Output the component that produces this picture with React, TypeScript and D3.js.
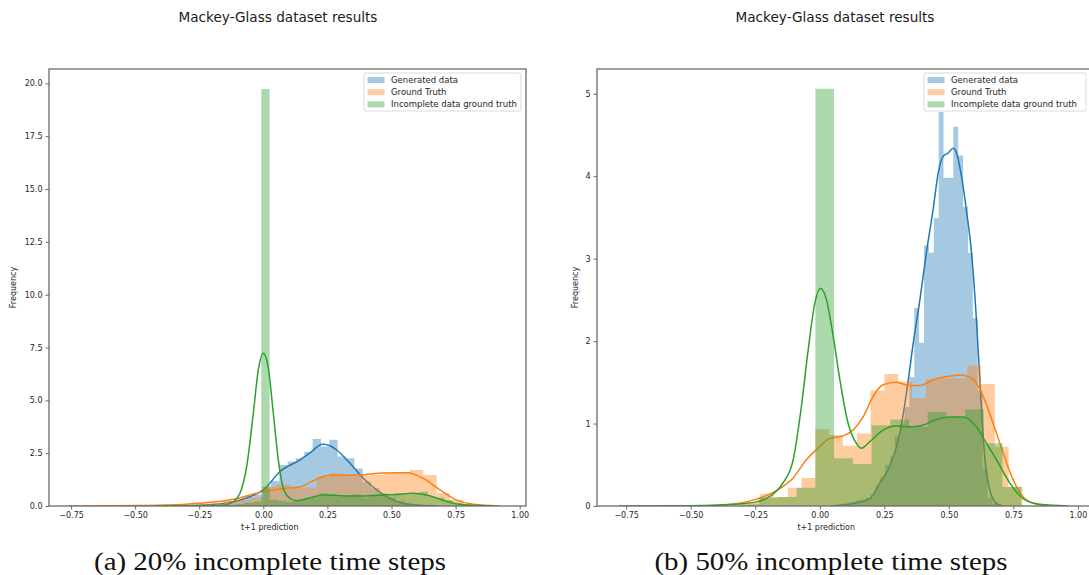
import React, { useRef, useEffect } from 'react'
import * as d3 from 'd3'

const titleText = 'Mackey-Glass dataset results'
const seriesNames = ['Generated data', 'Ground Truth', 'Incomplete data ground truth']
const seriesColors = ['#1f77b4', '#ff7f0e', '#2ca02c']
const xTickValues = [-0.75, -0.5, -0.25, 0, 0.25, 0.5, 0.75, 1.0]
const leftYTicks = [0, 2.5, 5, 7.5, 10, 12.5, 15, 17.5, 20]
const rightYTicks = [0, 1, 2, 3, 4, 5]
const captions = ['(a) 20% incomplete time steps', '(b) 50% incomplete time steps']

// ---- (a) 20% : histograms (bin start, bin width, heights) ----
const leftBlueStart = -0.165
const leftBlueWidth = 0.0325
const leftBlueHeights = [0.1, 0.2, 0.3, 0.45, 0.55, 0.9, 1.2, 1.94, 2.1, 2.26, 2.57, 3.17, 2.81, 3.13, 2.34, 2.26, 1.78, 1.15, 0.84, 0.6, 0.4, 0.25, 0.15, 0.1, 0.05, 0.03]

const leftOrangeStart = -0.364
const leftOrangeWidth = 0.052
const leftOrangeHeights = [0.04, 0.08, 0.12, 0.15, 0.25, 0.3, 0.4, 0.92, 1.0, 0.85, 0.88, 1.39, 1.55, 1.5, 1.42, 1.48, 1.55, 1.58, 1.7, 1.47, 0.6, 0.28, 0.1, 0.04]

const leftGreenStart = -0.138
const leftGreenWidth = 0.0325
const leftGreenHeights = [0.05, 0.1, 0.15, 0.2, 19.73, 0.3, 0.25, 0.2, 0.25, 0.35, 0.45, 0.6, 0.55, 0.45, 0.5, 0.55, 0.4, 0.5, 0.55, 0.5, 0.6, 0.55, 0.6, 0.68, 0.45, 0.4, 0.28, 0.15, 0.08]

// ---- (a) 20% : kde curves [x, density] ----
const leftBlueKde: [number, number][] = [[-0.35, 0], [-0.25, 0.03], [-0.117, 0.2], [-0.05, 0.45], [0, 0.76], [0.065, 1.63], [0.143, 2.18], [0.18, 2.49], [0.231, 2.92], [0.26, 2.85], [0.286, 2.65], [0.338, 2.02], [0.39, 1.31], [0.442, 0.76], [0.507, 0.28], [0.585, 0.05], [0.676, 0]]
const leftOrangeKde: [number, number][] = [[-0.76, 0], [-0.5, 0.02], [-0.3, 0.08], [-0.247, 0.13], [-0.117, 0.32], [0, 0.68], [0.091, 0.84], [0.143, 0.9], [0.195, 1.2], [0.26, 1.45], [0.377, 1.47], [0.468, 1.56], [0.559, 1.57], [0.624, 1.31], [0.689, 0.76], [0.754, 0.28], [0.819, 0.08], [0.923, 0]]
const leftGreenKde: [number, number][] = [[-0.42, 0], [-0.2, 0.01], [-0.15, 0.05], [-0.117, 0.2], [-0.091, 0.6], [-0.065, 1.86], [-0.039, 4.39], [-0.0195, 6.44], [0, 7.23], [0.0195, 6.52], [0.039, 4.39], [0.0585, 2.18], [0.078, 0.84], [0.104, 0.36], [0.13, 0.25], [0.182, 0.39], [0.234, 0.52], [0.299, 0.49], [0.377, 0.47], [0.455, 0.52], [0.52, 0.55], [0.585, 0.6], [0.637, 0.52], [0.689, 0.32], [0.741, 0.13], [0.793, 0.05], [0.897, 0]]

// ---- (b) 50% : histograms ----
const rightBlueStart = 0.0449
const rightBlueWidth = 0.0189
const rightBlueHeights = [0.01, 0.02, 0.03, 0.04, 0.05, 0.07, 0.08, 0.1, 0.15, 0.25, 0.35, 0.5, 0.6, 0.85, 1.0, 1.2, 1.56, 2.4, 1.98, 3.16, 3.07, 3.49, 4.78, 3.98, 3.98, 4.6, 4.25, 3.63, 3.07, 2.28, 1.4, 0.45, 0.1, 0.03]

const rightOrangeStart = -0.338
const rightOrangeWidth = 0.0535
const rightOrangeHeights = [0.04, 0.05, 0.15, 0.11, 0.22, 0.34, 0.93, 0.86, 0.73, 0.88, 1.4, 1.6, 1.51, 1.31, 1.54, 1.55, 1.55, 1.7, 1.48, 0.72, 0.23]

const rightGreenStart = -0.307
const rightGreenWidth = 0.0725
const rightGreenHeights = [0.02, 0.1, 0.11, 0.22, 5.06, 0.58, 0.51, 0.98, 1.05, 0.96, 1.14, 1.08, 1.17, 0.76, 0.23]

// ---- (b) 50% : kde curves ----
const rightBlueKde: [number, number][] = [[0.045, 0], [0.129, 0.03], [0.194, 0.09], [0.233, 0.28], [0.271, 0.48], [0.31, 0.88], [0.336, 1.37], [0.362, 1.97], [0.388, 2.5], [0.413, 3.07], [0.439, 3.59], [0.459, 4.04], [0.478, 4.24], [0.497, 4.28], [0.517, 4.34], [0.53, 4.28], [0.549, 4.0], [0.568, 3.59], [0.588, 3.07], [0.607, 2.26], [0.623, 1.37], [0.64, 0.56], [0.659, 0.19], [0.685, 0.03], [0.711, 0]]
const rightOrangeKde: [number, number][] = [[-0.504, 0], [-0.375, 0.01], [-0.284, 0.05], [-0.22, 0.11], [-0.155, 0.21], [-0.103, 0.34], [-0.052, 0.56], [0, 0.72], [0.039, 0.82], [0.09, 0.85], [0.129, 0.92], [0.168, 1.08], [0.207, 1.33], [0.245, 1.47], [0.297, 1.5], [0.349, 1.46], [0.388, 1.46], [0.439, 1.53], [0.491, 1.57], [0.543, 1.59], [0.594, 1.54], [0.633, 1.33], [0.672, 1.0], [0.711, 0.64], [0.749, 0.32], [0.788, 0.11], [0.84, 0.02], [0.891, 0]]
const rightGreenKde: [number, number][] = [[-0.778, 0], [-0.5, 0.003], [-0.336, 0.02], [-0.245, 0.05], [-0.187, 0.13], [-0.142, 0.28], [-0.103, 0.56], [-0.071, 1.21], [-0.045, 1.89], [-0.019, 2.46], [0.003, 2.64], [0.026, 2.5], [0.052, 2.06], [0.078, 1.53], [0.11, 1.0], [0.142, 0.76], [0.161, 0.7], [0.194, 0.78], [0.245, 0.92], [0.297, 0.97], [0.349, 0.96], [0.4, 0.98], [0.452, 1.05], [0.504, 1.08], [0.556, 1.08], [0.607, 0.96], [0.646, 0.76], [0.685, 0.56], [0.736, 0.28], [0.788, 0.09], [0.853, 0.02], [0.963, 0]]

interface Series { start: number, width: number, heights: number[], kde: [number, number][] }

interface PanelSpec {
  left: number, right: number, top: number, bottom: number
  xDomain: [number, number], yDomain: [number, number]
  yTicks: number[], yFormat: string, yLabelX: number
  series: Series[]
  titleX: number, captionX: number, captionW: number, caption: string
  legendX: number, legendW: number
  clipId: string
}

const panels: PanelSpec[] = [
  {
    left: 49, right: 526, top: 69, bottom: 506,
    xDomain: [-0.836, 1.0246], yDomain: [0, 20.68],
    yTicks: leftYTicks, yFormat: '.1f', yLabelX: 16,
    series: [
      { start: leftBlueStart, width: leftBlueWidth, heights: leftBlueHeights, kde: leftBlueKde },
      { start: leftOrangeStart, width: leftOrangeWidth, heights: leftOrangeHeights, kde: leftOrangeKde },
      { start: leftGreenStart, width: leftGreenWidth, heights: leftGreenHeights, kde: leftGreenKde }
    ],
    titleX: 278, captionX: 270, captionW: 352, caption: captions[0],
    legendX: 364, legendW: 157, clipId: 'clip-a'
  },
  {
    left: 597, right: 1090, top: 69, bottom: 506,
    xDomain: [-0.863, 1.047], yDomain: [0, 5.30],
    yTicks: rightYTicks, yFormat: 'd', yLabelX: 578,
    series: [
      { start: rightBlueStart, width: rightBlueWidth, heights: rightBlueHeights, kde: rightBlueKde },
      { start: rightOrangeStart, width: rightOrangeWidth, heights: rightOrangeHeights, kde: rightOrangeKde },
      { start: rightGreenStart, width: rightGreenWidth, heights: rightGreenHeights, kde: rightGreenKde }
    ],
    titleX: 835, captionX: 831, captionW: 353, caption: captions[1],
    legendX: 924, legendW: 162, clipId: 'clip-b'
  }
]

const sans = 'DejaVu Sans, sans-serif'

function drawPanel (svgEl: SVGSVGElement, p: PanelSpec) {
  const svg = d3.select(svgEl)
  const x = d3.scaleLinear().domain(p.xDomain).range([p.left, p.right])
  const y = d3.scaleLinear().domain(p.yDomain).range([p.bottom, p.top])

  svg.append('defs').append('clipPath').attr('id', p.clipId)
    .append('rect')
    .attr('x', p.left).attr('y', p.top)
    .attr('width', p.right - p.left).attr('height', p.bottom - p.top)

  const body = svg.append('g').attr('clip-path', `url(#${p.clipId})`)
  const line = d3.line<[number, number]>()
    .x(d => x(d[0]))
    .y(d => y(d[1]))
    .curve(d3.curveMonotoneX)
  // histogram drawn as one stepped area so neighbouring bars don't leave seams
  const step = d3.area<[number, number]>()
    .x(d => x(d[0]))
    .y0(y(0))
    .y1(d => y(d[1]))
    .curve(d3.curveStepAfter)

  p.series.forEach((s, i) => {
    const pts: [number, number][] = s.heights.map((h, k) => [s.start + k * s.width, h] as [number, number])
    pts.unshift([s.start, 0])
    pts.push([s.start + s.heights.length * s.width, 0])
    body.append('path').datum(pts)
      .attr('d', step)
      .attr('fill', seriesColors[i])
      .attr('fill-opacity', 0.4)
    body.append('path').datum(s.kde)
      .attr('d', line)
      .attr('fill', 'none')
      .attr('stroke', seriesColors[i])
      .attr('stroke-width', 1.5)
  })

  // axes
  const xAxis = d3.axisBottom(x).tickValues(xTickValues).tickFormat(d3.format('.2f') as any).tickSize(3.5).tickPadding(2.5)
  const gx = svg.append('g').attr('transform', `translate(0,${p.bottom})`).call(xAxis)
  const yAxis = d3.axisLeft(y).tickValues(p.yTicks).tickFormat(d3.format(p.yFormat) as any).tickSize(3.5).tickPadding(3)
  const gy = svg.append('g').attr('transform', `translate(${p.left},0)`).call(yAxis)
  ;[gx, gy].forEach(g => {
    g.select('.domain').remove()
    g.attr('font-family', sans).attr('font-size', 8)
    g.selectAll('line').attr('stroke', '#444').attr('stroke-width', 0.8)
    g.selectAll('text').attr('fill', '#262626')
  })

  // spines
  svg.append('rect')
    .attr('x', p.left).attr('y', p.top)
    .attr('width', p.right - p.left).attr('height', p.bottom - p.top)
    .attr('fill', 'none').attr('stroke', '#6a6a6a').attr('stroke-width', 1.3)

  // axis labels
  svg.append('text')
    .attr('x', x(0.025))
    .attr('y', 530)
    .attr('text-anchor', 'middle')
    .attr('font-family', sans).attr('font-size', 8).attr('fill', '#262626')
    .text('t+1 prediction')
  svg.append('text')
    .attr('transform', `translate(${p.yLabelX},${(p.top + p.bottom) / 2}) rotate(-90)`)
    .attr('text-anchor', 'middle')
    .attr('font-family', sans).attr('font-size', 8).attr('fill', '#262626')
    .text('Frequency')

  // legend
  const lg = svg.append('g').attr('transform', `translate(${p.legendX},73)`)
  lg.append('rect')
    .attr('width', p.legendW).attr('height', 38).attr('rx', 2)
    .attr('fill', '#fff').attr('fill-opacity', 0.8)
    .attr('stroke', '#d0d0d0').attr('stroke-width', 0.8)
  seriesNames.forEach((name, i) => {
    const row = lg.append('g').attr('transform', `translate(0,${7 + i * 12.2})`)
    row.append('rect')
      .attr('x', 3.5).attr('y', -3).attr('width', 17).attr('height', 6)
      .attr('fill', seriesColors[i]).attr('fill-opacity', 0.4)
    row.append('text')
      .attr('x', 27).attr('dy', '0.35em')
      .attr('font-family', sans).attr('font-size', 8.5).attr('fill', '#262626')
      .text(name)
  })

  // title and caption
  svg.append('text')
    .attr('x', p.titleX).attr('y', 21.5)
    .attr('text-anchor', 'middle')
    .attr('font-family', sans).attr('font-size', 13.6).attr('fill', '#1a1a1a')
    .text(titleText)
  svg.append('text')
    .attr('x', p.captionX - p.captionW / 2).attr('y', 570)
    .attr('textLength', p.captionW).attr('lengthAdjust', 'spacingAndGlyphs')
    .attr('font-family', "'Liberation Serif', 'Times New Roman', serif").attr('font-size', 26).attr('fill', '#111')
    .text(p.caption)
}

export default function App () {
  const ref = useRef<SVGSVGElement>(null)

  useEffect(() => {
    if (ref.current === null) return
    const el = ref.current
    d3.select(el).selectAll('*').remove()
    panels.forEach(p => drawPanel(el, p))
  }, [])

  return (
    <svg ref={ref} width={1089} height={575}
      style={{ position: 'absolute', left: 0, top: 0, background: '#fff', display: 'block' }} />
  )
}
